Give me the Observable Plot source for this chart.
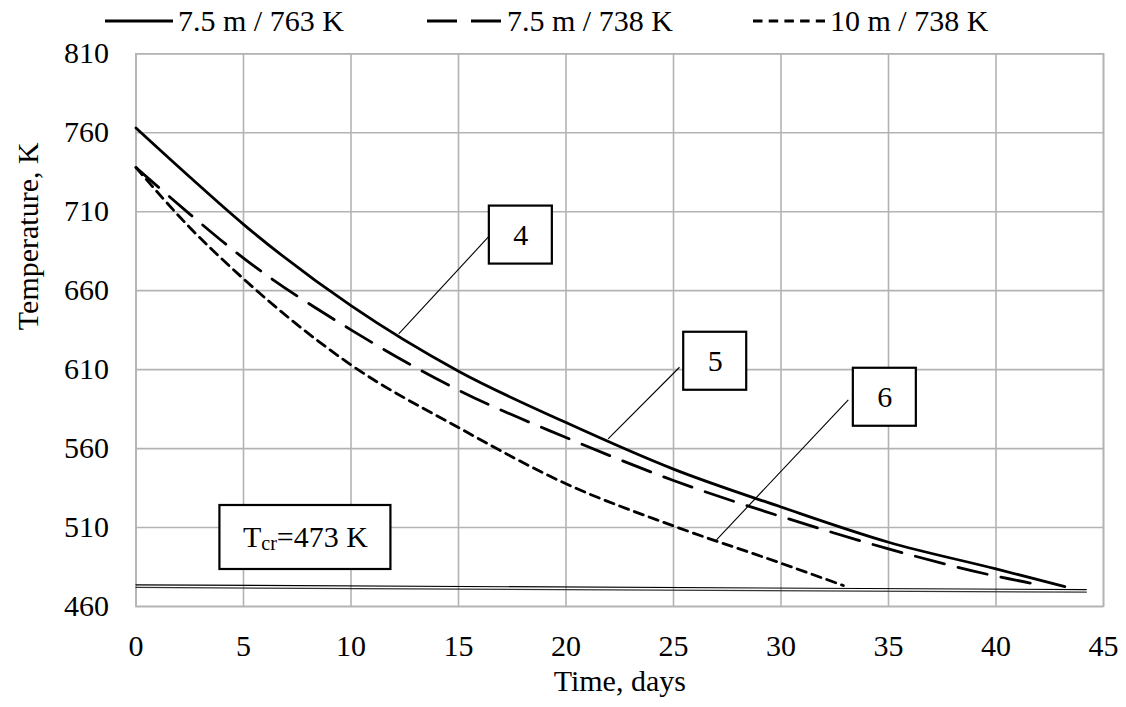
<!DOCTYPE html>
<html>
<head>
<meta charset="utf-8">
<script src="https://cdn.jsdelivr.net/npm/d3@7"></script>
<script src="https://cdn.jsdelivr.net/npm/@observablehq/plot@0.6"></script>
<style>
  body { margin: 0; background: #fff; font-family: "Liberation Serif", "Times New Roman", serif; }
  #legend { position: relative; width: 1126px; height: 28px; }
  .item { position: absolute; top: 0; height: 42px; display: flex; align-items: center;
          font-size: 30px; color: #000; white-space: nowrap; }
  .item svg { margin-right: 5px; }
  #chart svg { display: block; }
</style>
</head>
<body>
<div id="legend"></div>
<div id="chart"></div>
<script>
// Cooling curves: temperature (K) against time (days)
const days763 = [0, 2.5, 5, 10, 15, 20, 25, 30, 35, 40, 43.2];
const temp763 = [763, 732, 702, 650.5, 609, 576.5, 547, 523, 500.7, 483.8, 472.6];

const days738 = [0, 2.5, 5, 10, 15, 20, 25, 30, 35, 40, 42];
const temp738 = [738, 708.5, 680.6, 635.2, 597, 567, 539.8, 517, 496.5, 479.2, 473.8];

const days10m = [0, 2.5, 5, 10, 15, 20, 25, 30, 32.9];
const temp10m = [738, 700, 667.5, 613, 573.3, 537.7, 511, 487.4, 473.3];

// Critical temperature line
const tcrDays = [0, 44.2];
const tcrTemp = [473.7, 470.7];

const seriesNames = ["7.5 m / 763 K", "7.5 m / 738 K", "10 m / 738 K"];
const xTicks = [0, 5, 10, 15, 20, 25, 30, 35, 40, 45];
const yTicks = [460, 510, 560, 610, 660, 710, 760, 810];

// Numbered curve callouts: box centre and the leader line end points
const calloutLabels = ["4", "5", "6"];
const calloutX = [17.9, 26.94, 34.83];
const calloutY = [695.2, 615.3, 592.5];
const leaderFromX = [12.22, 21.96, 27.0];
const leaderFromY = [632.7, 566.2, 502.2];
const leaderToX = [16.39, 25.28, 33.13];
const leaderToY = [694.0, 611.5, 590.9];

const tcrLabel = "Tcr=473 K";
const tcrLabelX = 7.88;
const tcrLabelY = 503.7;

const toRows = (xs, ys) => xs.map((d, i) => ({day: d, temp: ys[i]}));
const rows763 = toRows(days763, temp763);
const rows738 = toRows(days738, temp738);
const rows10m = toRows(days10m, temp10m);
const tcrRows = toRows(tcrDays, tcrTemp);
const callouts = calloutLabels.map((t, i) => ({label: t, x: calloutX[i], y: calloutY[i]}));
const leaders = calloutLabels.map((t, i) => ({
  x1: leaderFromX[i], y1: leaderFromY[i], x2: leaderToX[i], y2: leaderToY[i]
}));

const styles = [
  {dash: null, sample: 68, left: 105},
  {dash: "30,14", sample: 75, left: 427},
  {dash: "9.5,6.2", sample: 72, left: 753}
];

// Legend above the chart
const legend = document.getElementById("legend");
seriesNames.forEach((name, i) => {
  const s = styles[i];
  const item = document.createElement("div");
  item.className = "item";
  item.style.left = s.left + "px";
  const dashAttr = s.dash ? ` stroke-dasharray="${s.dash}"` : "";
  item.innerHTML = `<svg width="${s.sample}" height="8"><line x1="0" x2="${s.sample}" y1="4" y2="4" stroke="#000" stroke-width="3"${dashAttr}/></svg><span>${name}</span>`;
  legend.appendChild(item);
});

const gridColor = "#b3b3b3";
const lineWidth = 2.8;

const chart = Plot.plot({
  width: 1126,
  height: 679,
  marginLeft: 135.5,
  marginRight: 23,
  marginTop: 25.3,
  marginBottom: 101,
  style: {fontFamily: "'Liberation Serif', 'Times New Roman', serif", fontSize: "30px", color: "#000", background: "#fff", overflow: "visible"},
  x: {domain: [0, 45]},
  y: {domain: [460, 810]},
  marks: [
    Plot.gridX(xTicks, {stroke: gridColor, strokeOpacity: 1, strokeWidth: 1.6}),
    Plot.gridY(yTicks, {stroke: gridColor, strokeOpacity: 1, strokeWidth: 1.6}),
    Plot.frame({stroke: gridColor, strokeWidth: 1.6}),
    Plot.axisX({ticks: xTicks, tickSize: 0, tickPadding: 28, fontSize: 30, label: null, tickFormat: d => String(d)}),
    Plot.axisY({ticks: yTicks, tickSize: 0, tickPadding: 27, fontSize: 30, label: null, tickFormat: d => String(d)}),
    Plot.text(["Time, days"], {frameAnchor: "bottom", dy: 84, fontSize: 30, fill: "#000"}),
    Plot.text(["Temperature, K"], {frameAnchor: "left", rotate: -90, dx: -108, fontSize: 30, fill: "#000"}),
    // critical temperature, drawn as a double rule
    Plot.line(tcrRows, {x: "day", y: "temp", stroke: "#000", strokeWidth: 1.2}),
    Plot.line(tcrRows, {x: "day", y: "temp", stroke: "#333", strokeWidth: 1.2, dy: 2.6}),
    Plot.line(rows763, {x: "day", y: "temp", stroke: "#000", strokeWidth: lineWidth, curve: "monotone-x"}),
    Plot.line(rows738, {x: "day", y: "temp", stroke: "#000", strokeWidth: lineWidth, curve: "monotone-x", strokeDasharray: styles[1].dash}),
    Plot.line(rows10m, {x: "day", y: "temp", stroke: "#000", strokeWidth: lineWidth, curve: "monotone-x", strokeDasharray: styles[2].dash}),
    Plot.link(leaders, {x1: "x1", y1: "y1", x2: "x2", y2: "y2", stroke: "#000", strokeWidth: 1.1}),
    Plot.rect(callouts, {x1: "x", x2: "x", y1: "y", y2: "y",
      insetLeft: -31.5, insetRight: -31.5, insetTop: -29, insetBottom: -29,
      fill: "#fff", stroke: "#000", strokeWidth: 2.2}),
    Plot.text(callouts, {x: "x", y: "y", text: "label", fontSize: 30, fill: "#000"}),
    Plot.rect([{x: tcrLabelX, y: tcrLabelY}], {x1: "x", x2: "x", y1: "y", y2: "y",
      insetLeft: -85.5, insetRight: -85.5, insetTop: -32, insetBottom: -32,
      fill: "#fff", stroke: "#000", strokeWidth: 2.2}),
    Plot.text([tcrLabel], {x: () => tcrLabelX, y: () => tcrLabelY, fontSize: 30, fill: "#000"})
  ]
});

// subscript "cr" in the critical temperature label
d3.select(chart).selectAll("text")
  .filter(function () { return this.textContent === tcrLabel; })
  .each(function () {
    const t = d3.select(this);
    t.text(null);
    t.append("tspan").text("T");
    t.append("tspan").attr("font-size", 20).attr("dy", 3).text("cr");
    t.append("tspan").attr("dy", -3).text("=473 K");
  });

document.getElementById("chart").appendChild(chart);
</script>
</body>
</html>
